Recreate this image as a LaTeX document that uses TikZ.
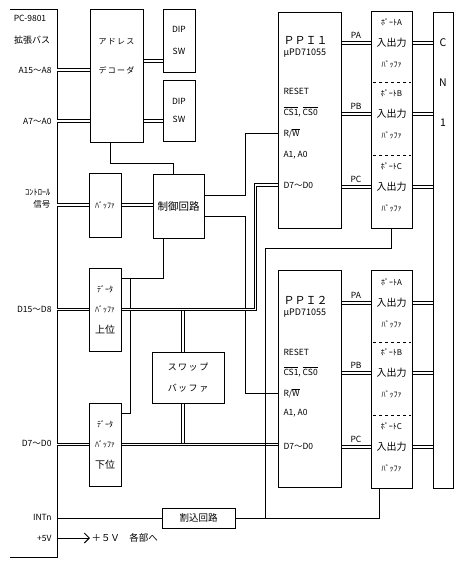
\documentclass[tikz,border=0pt]{standalone}
\usepackage{fontspec}
\setmainfont{Noto Sans CJK JP}
\usepackage{tikz}
\usetikzlibrary{arrows.meta}

\tikzset{
  blk/.style={draw, inner sep=0pt},
  dbus/.style={double, double distance=1.1pt, line width=1pt},
  lbl/.style={inner sep=1pt, font=\fontsize{8.5}{10}\selectfont},
  ptx/.style={anchor=west, inner sep=1pt, font=\fontsize{8.5}{10}\selectfont},
  sect/.style={align=center, inner sep=0pt, font=\fontsize{8}{21}\selectfont},
  sepline/.style={dash pattern=on 3pt off 3pt, line width=1pt},
}
\newcommand{\ioTxt}{{\fontsize{10}{21}\selectfont 入出力}}
\newcommand{\ovbar}[1]{$\overline{\mbox{#1}}$}

\begin{document}
\begin{tikzpicture}[x=1pt, y=-1pt, line width=1pt]
            \useasboundingbox (0,0) rectangle (464,566);

            % expansion bus
            \draw (10,9) -- (57,9) -- (57,557) -- (10,557);
            \coordinate (bus) at (57,9);
            \coordinate (sw1) at (0,61);
            \draw (30,18) node[lbl]                                    (pc) {PC-9801};
            \draw (32,40) node[lbl, font=\fontsize{9}{10}\selectfont]  (exb) {拡張バス};
            \draw (53,70) node[lbl, anchor=east]                       (la) {A15～A8};
            \draw (53,121) node[lbl, anchor=east]                      (lb) {A7～A0};
            \draw (52,199) node[lbl, anchor=east, align=right, font=\fontsize{8.5}{12}\selectfont] (lctl) {ｺﾝﾄﾛｰﾙ\\信号};
            \draw (53,309) node[lbl, anchor=east]                      (ld1) {D15～D8};
            \draw (53,443) node[lbl, anchor=east]                      (ld0) {D7～D0};
            \draw (53,517) node[lbl, anchor=east]                      (lint) {INTn};
            \draw (53,538) node[lbl, anchor=east]                      (v5) {+5V};
            \draw (90,538) node[lbl, anchor=west, font=\fontsize{9.5}{10}\selectfont] (v5t) {＋５Ｖ\quad 各部へ};

            % blocks
            \draw (116.5,75.5) node[blk, minimum width=53pt, minimum height=133pt] (dec) {};
            \draw (116.5,56.5) node[sect, font=\fontsize{8}{29}\selectfont] (tdec) {ア\,ド\,レ\,ス\\デ\,コ\,ー\,ダ};
            \draw (179,40.5) node[blk, minimum width=32pt, minimum height=63pt, align=center, font=\fontsize{8.5}{22}\selectfont] (dip1) {DIP\\SW};
            \draw (179,110.5) node[blk, minimum width=32pt, minimum height=61pt, align=center, font=\fontsize{8.5}{18}\selectfont] (dip2) {DIP\\SW};
            \draw (105,205) node[blk, minimum width=32pt, minimum height=64pt, font=\fontsize{8}{10}\selectfont] (buf) {ﾊﾞｯﾌｧ};
            \draw (178.5,206) node[blk, minimum width=51pt, minimum height=64pt, font=\fontsize{10.5}{12}\selectfont] (ctl) {制御回路};
            \draw (105,309.5) node[blk, minimum width=32pt, minimum height=83pt, align=center, font=\fontsize{8}{20.5}\selectfont] (dbh) {ﾃﾞｰﾀ\\ﾊﾞｯﾌｧ\\{\fontsize{10}{20}\selectfont 上位}};
            \draw (105,444.5) node[blk, minimum width=32pt, minimum height=83pt, align=center, font=\fontsize{8}{20.5}\selectfont] (dbl) {ﾃﾞｰﾀ\\ﾊﾞｯﾌｧ\\{\fontsize{10}{20}\selectfont 下位}};
            \draw (188,377.5) node[blk, minimum width=72pt, minimum height=51pt, align=center, font=\fontsize{9}{21}\selectfont] (swp) {ス\,ワ\,ッ\,プ\\バ\,ッ\,フ\,ァ};
            \draw (198.5,518) node[blk, minimum width=73pt, minimum height=20pt, font=\fontsize{9.5}{10}\selectfont] (intc) {割込回路};

            % PPI 1
            \draw (309.5,120) node[blk, minimum width=63pt, minimum height=216pt] (ppi1) {};
            \draw (282,40) node[ptx, font=\fontsize{11}{12}\selectfont] (n1) {ＰＰＩ１};
            \draw (282,53) node[ptx, font=\fontsize{9}{10}\selectfont] (c1) {μPD71055};
            \draw (282,91) node[ptx]                                   (rs1) {RESET};
            \draw (282,112) node[ptx]                                  (cs1) {\ovbar{CS1}, \ovbar{CS0}};
            \draw (282,133) node[ptx]                                  (rw1) {R/\ovbar{W}};
            \draw (282,155) node[ptx]                                  (ad1) {A1, A0};
            \draw (282,185) node[ptx]                                  (d1) {D7～D0};

            % PPI 2
            \draw (309.5,378.5) node[blk, minimum width=63pt, minimum height=217pt] (ppi2) {};
            \draw (282,300) node[ptx, font=\fontsize{11}{12}\selectfont] (n2) {ＰＰＩ２};
            \draw (282,313) node[ptx, font=\fontsize{9}{10}\selectfont] (c2) {μPD71055};
            \draw (282,352) node[ptx]                                  (rs2) {RESET};
            \draw (282,372) node[ptx]                                  (cs2) {\ovbar{CS1}, \ovbar{CS0}};
            \draw (282,393) node[ptx]                                  (rw2) {R/\ovbar{W}};
            \draw (282,413) node[ptx]                                  (ad2) {A1, A0};
            \draw (282,446) node[ptx]                                  (d2) {D7～D0};

            % port buffers and connector
            \draw (391.5,119.5) node[blk, minimum width=41pt, minimum height=217pt] (port1) {};
            \draw (391.5,379) node[blk, minimum width=41pt, minimum height=218pt] (port2) {};
            \draw[sepline] (373,82) -- (411,82);
            \draw[sepline] (373,155) -- (411,155);
            \draw[sepline] (373,342) -- (411,342);
            \draw[sepline] (373,415) -- (411,415);
            \draw (391.5,43) node[sect]                                (p1a) {ﾎﾟｰﾄA\\\ioTxt\\ﾊﾞｯﾌｧ};
            \draw (391.5,114) node[sect]                               (p1b) {ﾎﾟｰﾄB\\\ioTxt\\ﾊﾞｯﾌｧ};
            \draw (391.5,187) node[sect]                               (p1c) {ﾎﾟｰﾄC\\\ioTxt\\ﾊﾞｯﾌｧ};
            \draw (391.5,303) node[sect]                               (p2a) {ﾎﾟｰﾄA\\\ioTxt\\ﾊﾞｯﾌｧ};
            \draw (391.5,373) node[sect]                               (p2b) {ﾎﾟｰﾄB\\\ioTxt\\ﾊﾞｯﾌｧ};
            \draw (391.5,447) node[sect]                               (p2c) {ﾎﾟｰﾄC\\\ioTxt\\ﾊﾞｯﾌｧ};
            \draw (443,250) node[blk, minimum width=20pt, minimum height=476pt] (cn) {};
            \draw (443,83) node[align=center, inner sep=0pt, font=\fontsize{10.5}{40}\selectfont] (cnt) {C\\N\\1};

            % address side
            \draw[dbus] (bus |- la) -- (dec.west |- la);
            \draw[dbus] (bus |- lb) -- (dec.west |- lb);
            \draw[dbus] (dec.east |- sw1) -- (dip1.west |- sw1);
            \draw[dbus] (dec.east |- lb) -- (dip2.west |- lb);
            \draw ([xshift=-6.5pt]dec.south) -- ++(0,21) -| ([xshift=-5.5pt]ctl.north);

            % control side
            \draw[dbus] (bus |- buf) -- (buf.west);
            \draw[dbus] (buf.east) -- (ctl.west |- buf);
            \draw ([yshift=11pt]ctl.east) -| ([xshift=-32pt]ppi1.west |- rw1) -- (ppi1.west |- rw1);
            \draw ([yshift=-10pt]ctl.east) -| ([xshift=-32pt]ppi2.west |- rw2) -- (ppi2.west |- rw2);
            \draw ([xshift=-15.5pt]ctl.south) |- ([yshift=31.5pt]dbh.east);
            \draw ([shift={(9pt,31.5pt)}]dbh.east) |- ([yshift=31.5pt]dbl.east);

            % data side
            \draw[dbus] ([xshift=-5pt]swp.north) -- ([xshift=-5pt]swp.north |- dbh.east);
            \draw[dbus] ([xshift=-5pt]swp.south) -- ([xshift=-5pt]swp.south |- dbl.east);
            \draw[dbus] (bus |- dbh) -- (dbh.west);
            \draw[dbus] (dbh.east) -| ([xshift=-22pt]ppi1.west |- d1) -- (ppi1.west |- d1);
            \draw[dbus] (bus |- dbl) -- (dbl.west);
            \draw[dbus] (dbl.east) -- (ppi2.west |- dbl.east);

            % ports
            \draw[dbus] (ppi1.east |- p1a) -- node[lbl, above=3pt] (pa1) {PA} (port1.west |- p1a);
            \draw[dbus] (ppi1.east |- p1b) -- node[lbl, above=3pt] (pb1) {PB} (port1.west |- p1b);
            \draw[dbus] (ppi1.east |- p1c) -- node[lbl, above=3pt] (pc1) {PC} (port1.west |- p1c);
            \draw[dbus] (ppi2.east |- p2a) -- node[lbl, above=3pt] (pa2) {PA} (port2.west |- p2a);
            \draw[dbus] (ppi2.east |- p2b) -- node[lbl, above=3pt] (pb2) {PB} (port2.west |- p2b);
            \draw[dbus] (ppi2.east |- p2c) -- node[lbl, above=3pt] (pc2) {PC} (port2.west |- p2c);
            \draw[dbus] (port1.east |- p1a) -- (cn.west |- p1a);
            \draw[dbus] (port1.east |- p1b) -- (cn.west |- p1b);
            \draw[dbus] (port1.east |- p1c) -- (cn.west |- p1c);
            \draw[dbus] (port2.east |- p2a) -- (cn.west |- p2a);
            \draw[dbus] (port2.east |- p2b) -- (cn.west |- p2b);
            \draw[dbus] (port2.east |- p2c) -- (cn.west |- p2c);

            % interrupt and power
            \draw (port1.south) -- ++(0,20) -| ([xshift=-12pt]ppi2.west |- intc.east);
            \draw (intc.east) -| ([xshift=-12.5pt]port2.south);
            \draw (bus |- intc) -- (intc.west);
            \draw[-{Straight Barb[length=5pt]}] (bus |- v5) -- (v5t.west);

            \end{tikzpicture}
\end{document}
